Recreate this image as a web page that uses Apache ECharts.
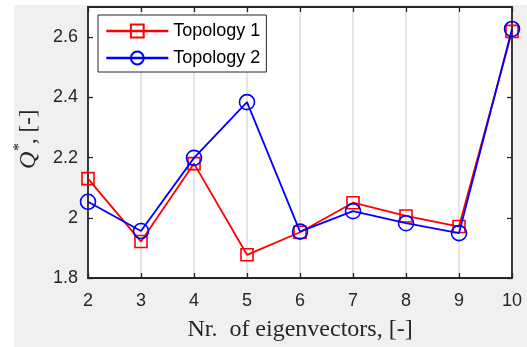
<!DOCTYPE html>
<html>
<head>
<meta charset="utf-8">
<script src="https://cdn.jsdelivr.net/npm/echarts@6/dist/echarts.min.js"></script>
<style>
  html, body { margin: 0; padding: 0; background: #fff; }
  #chart { width: 527px; height: 347px; }
</style>
</head>
<body>
<div id="chart"></div>
<script>
// Number of eigenvectors on the horizontal axis
const eigenvectors = [2, 3, 4, 5, 6, 7, 8, 9, 10];
// Q* for the two network topologies
const topology1 = [2.130, 1.921, 2.180, 1.877, 1.952, 2.050, 2.006, 1.971, 2.619];
const topology2 = [2.053, 1.956, 2.199, 2.384, 1.954, 2.022, 1.982, 1.949, 2.627];
// Tick values
const xTicks = [2, 3, 4, 5, 6, 7, 8, 9, 10];
const yTicks = [1.8, 2.0, 2.2, 2.4, 2.6];
const seriesNames = ['Topology 1', 'Topology 2'];

const axisColor = '#262626';
const labelFont = 'Liberation Sans';
const serifFont = 'Liberation Serif';

const chart = echarts.init(document.getElementById('chart'), null, { renderer: 'canvas' });

const pairs = (ys) => eigenvectors.map((x, i) => [x, ys[i]]);

const baseX = {
  type: 'value', min: 2, max: 10, interval: 1,
  axisLine: { show: true, onZero: false, lineStyle: { color: axisColor, width: 1.8 } },
  axisTick: { show: true, inside: true, length: 5, customValues: xTicks, lineStyle: { color: axisColor, width: 1.3 } }
};
const baseY = {
  type: 'value', min: 1.8, max: 2.7, interval: 0.1,
  axisLine: { show: true, onZero: false, lineStyle: { color: axisColor, width: 1.8 } },
  axisTick: { show: true, inside: true, length: 5, customValues: yTicks, lineStyle: { color: axisColor, width: 1.3 } },
  splitLine: { show: false }
};

chart.setOption({
  backgroundColor: '#fff',
  animation: false,
  graphic: [
    { type: 'rect', z: -10, silent: true, shape: { x: 14, y: 5, width: 513, height: 342 }, style: { fill: '#f0f0f0' } },
    {
      type: 'group', x: 29, y: 149, rotation: Math.PI / 2, z: 10,
      children: [
        { type: 'text', x: -20, y: 0, style: { text: 'Q', font: 'italic 24px "' + serifFont + '"', fill: axisColor, verticalAlign: 'middle', align: 'left' } },
        { type: 'text', x: -2, y: -9, style: { text: '*', font: '16px "' + serifFont + '"', fill: axisColor, verticalAlign: 'middle', align: 'left' } },
        { type: 'text', x: 5, y: 0, style: { text: ', [-]', font: '23px "' + serifFont + '"', fill: axisColor, verticalAlign: 'middle', align: 'left' } }
      ]
    }
  ],
  grid: {
    left: 88, right: 15, top: 7, bottom: 67,
    show: true, backgroundColor: '#fff', borderWidth: 0
  },
  legend: {
    data: seriesNames,
    orient: 'vertical', align: 'left',
    left: 98, top: 15,
    padding: [7, 6, 5, 7],
    itemWidth: 62, itemHeight: 16, itemGap: 9,
    backgroundColor: '#fff', borderColor: axisColor, borderWidth: 1,
    borderRadius: 0,
    lineStyle: { width: 2.6 },
    textStyle: { fontFamily: labelFont, fontSize: 18, color: '#000' }
  },
  xAxis: [
    Object.assign({}, baseX, {
      position: 'bottom',
      name: 'Nr.  of eigenvectors, [-]',
      nameLocation: 'middle', nameGap: 40,
      nameTextStyle: { fontFamily: serifFont, fontSize: 24, color: axisColor },
      axisLabel: { show: true, customValues: xTicks, margin: 14, fontFamily: labelFont, fontSize: 18, color: axisColor },
      splitLine: { show: true, lineStyle: { color: '#dcdcdc', width: 1.5 } }
    }),
    Object.assign({}, baseX, { position: 'top', axisLabel: { show: false }, splitLine: { show: false } })
  ],
  yAxis: [
    Object.assign({}, baseY, {
      position: 'left',
      axisLabel: { show: true, customValues: yTicks, margin: 10, fontFamily: labelFont, fontSize: 18, color: axisColor,
        formatter: (v) => String(Math.round(v * 10) / 10) }
    }),
    Object.assign({}, baseY, { position: 'right', axisLabel: { show: false } })
  ],
  series: [
    {
      name: seriesNames[0], type: 'line', data: pairs(topology1),
      xAxisIndex: 0, yAxisIndex: 0,
      symbol: 'rect', symbolSize: 12, showAllSymbol: true,
      lineStyle: { color: '#ff0000', width: 1.8 },
      itemStyle: { color: 'rgba(255,255,255,0)', borderColor: '#ff0000', borderWidth: 1.6 },
      emphasis: { disabled: true }, z: 3
    },
    {
      name: seriesNames[1], type: 'line', data: pairs(topology2),
      xAxisIndex: 0, yAxisIndex: 0,
      symbol: 'circle', symbolSize: 15, showAllSymbol: true,
      lineStyle: { color: '#0000ff', width: 1.8 },
      itemStyle: { color: 'rgba(255,255,255,0)', borderColor: '#0000ff', borderWidth: 1.6 },
      emphasis: { disabled: true }, z: 4
    }
  ]
});
</script>
</body>
</html>
